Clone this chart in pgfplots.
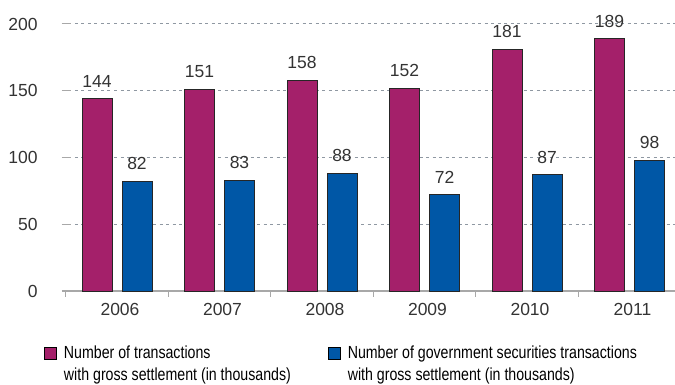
\documentclass[border=0pt]{standalone}
\usepackage{pgfplots}
\pgfplotsset{compat=1.18}
\usepackage{fontspec}
\setmainfont{Liberation Sans}
\newfontfamily\narrowfont{Liberation Sans}[FakeStretch=0.81]
\definecolor{barmag}{HTML}{A4206A}
\definecolor{barblue}{HTML}{0057A6}
\definecolor{gridc}{HTML}{8F98A2}
\definecolor{axisc}{HTML}{A8A8A8}
\definecolor{textc}{HTML}{333333}
\newcommand{\digitfont}{\fontsize{17.5}{21}\selectfont}
\begin{document}
\begin{tikzpicture}[x=1pt,y=1pt]
\path[use as bounding box] (0,0) rectangle (675,385);
\begin{axis}[
  at={(62pt,94pt)}, anchor=south west,
  scale only axis, width=613pt, height=267pt,
  xmin=-0.5366, xmax=5.4439, ymin=0, ymax=200,
  ybar=10pt, bar width=30pt,
  axis x line*=bottom, axis y line*=left,
  x axis line style={axisc, line width=1.5pt, -},
  y axis line style={draw=none},
  ytick={0,50,100,150,200},
  major y tick style={draw=none},
  ymajorgrids,
  grid style={dash pattern=on 3pt off 3.5pt, color=gridc, line width=1pt},
  xtick={0,1,2,3,4,5},
  xticklabels={2006,2007,2008,2009,2010,2011},
  major x tick style={draw=none},
  minor xtick={-0.5,0.5,1.5,2.5,3.5,4.5},
  minor x tick style={axisc, line width=1pt},
  minor tick length=6pt,
  tick align=outside,
  /pgf/number format/assume math mode=true,
  xticklabel style={font=\digitfont, text=textc, inner sep=0pt, anchor=north, yshift=-8pt, xshift=3pt},
  yticklabel style={font=\digitfont, text=textc, inner sep=0pt, anchor=east, xshift=-20pt},
  nodes near coords,
  every node near coord/.append style={font=\digitfont, text=textc, inner sep=0pt, anchor=south, yshift=11pt},
  clip=false,
  legend columns=2,
  legend style={draw=none, fill=none, at={(axis description cs:0,0)}, anchor=north west,
    xshift=-18pt, yshift=-56pt, inner sep=0pt, column sep=0pt, row sep=0pt,
    font=\narrowfont\fontsize{17.5}{22}\selectfont, text=black, nodes={inner sep=0pt}},
  sqlegend/.style={legend image code/.code={\draw[##1, draw=black, line width=0.8pt] (0pt,0pt) rectangle (12pt,12pt); \path (19pt,0pt);}},
]
\addplot[fill=barmag, draw=black!85, line width=0.8pt, sqlegend] coordinates {(0,144) (1,151) (2,158) (3,152) (4,181) (5,189)};
\addlegendentry{\makebox[264pt][l]{\smash{\begin{tabular}[t]{@{}l@{}}Number of transactions\\with gross settlement (in thousands)\end{tabular}}}}
\addplot[fill=barblue, draw=black!85, line width=0.8pt, sqlegend] coordinates {(0,82) (1,83) (2,88) (3,72) (4,87) (5,98)};
\addlegendentry{\smash{\begin{tabular}[t]{@{}l@{}}Number of government securities transactions\\with gross settlement (in thousands)\end{tabular}}}
\draw[axisc, line width=1pt] (rel axis cs:0,0.25) -- ([xshift=9pt]rel axis cs:0,0.25);
\draw[axisc, line width=1pt] (rel axis cs:0,0.5) -- ([xshift=9pt]rel axis cs:0,0.5);
\draw[axisc, line width=1pt] (rel axis cs:0,0.75) -- ([xshift=9pt]rel axis cs:0,0.75);
\draw[axisc, line width=1pt] (rel axis cs:0,1) -- ([xshift=9pt]rel axis cs:0,1);
\end{axis}
\end{tikzpicture}
\end{document}
